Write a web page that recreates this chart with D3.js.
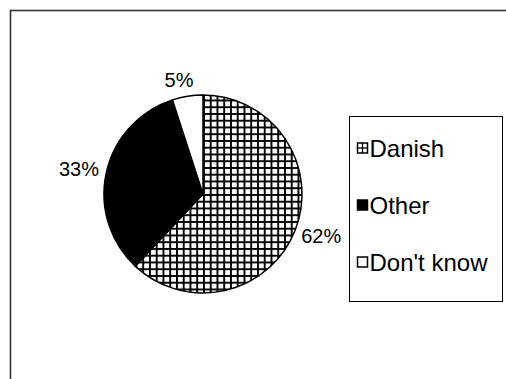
<!DOCTYPE html>
<html>
<head>
<meta charset="utf-8">
<script src="https://cdn.jsdelivr.net/npm/d3@7"></script>
<style>
  html, body { margin: 0; padding: 0; background: #fff; }
  svg { display: block; }
  text { font-family: "Liberation Sans", Arial, sans-serif; fill: #000; }
</style>
</head>
<body>
<svg id="chart" width="506" height="379"></svg>
<script>
// Survey answer shares, in percent
const categories = ["Danish", "Other", "Don't know"];
const shares = [62, 33, 5];
const valueLabels = ["62%", "33%", "5%"];

const svg = d3.select("#chart");
const W = 506, H = 379;

// chart area frame (runs off the right and bottom edges)
svg.append("rect")
  .attr("x", 10.5).attr("y", 10.5)
  .attr("width", W + 20).attr("height", H + 20)
  .attr("fill", "#fff").attr("stroke", "#333").attr("stroke-width", 1.6);

// cross-hatch fill for the "Danish" slice
const defs = svg.append("defs");
const grid = defs.append("pattern")
  .attr("id", "grid")
  .attr("patternUnits", "userSpaceOnUse")
  .attr("width", 6.75).attr("height", 6.75);
grid.append("rect").attr("width", 6.75).attr("height", 6.75).attr("fill", "#fff");
grid.append("rect").attr("x", 0).attr("y", 0).attr("width", 1.9).attr("height", 6.75).attr("fill", "#000");
grid.append("rect").attr("x", 0).attr("y", 0).attr("width", 6.75).attr("height", 1.9).attr("fill", "#000");

const fills = ["url(#grid)", "#000", "#fff"];

const cx = 203, cy = 194, r = 99;
const pie = d3.pie().sort(null).value(d => d)(shares);
const arc = d3.arc().innerRadius(0).outerRadius(r);

const g = svg.append("g").attr("transform", `translate(${cx},${cy})`);
g.selectAll("path.slice")
  .data(pie)
  .join("path")
  .attr("class", "slice")
  .attr("d", arc)
  .attr("fill", (d, i) => fills[i])
  .attr("stroke", "#000")
  .attr("stroke-width", 1.5)
  .attr("stroke-linejoin", "round");

// percentage labels just outside the rim
const labelFont = 20;
const labelGroup = g.selectAll("text.pct")
  .data(pie)
  .join("text")
  .attr("class", "pct")
  .attr("font-size", labelFont)
  .attr("text-anchor", "middle")
  .attr("dominant-baseline", "central")
  .text((d, i) => valueLabels[i]);

labelGroup.each(function (d) {
  const a = (d.startAngle + d.endAngle) / 2;
  const dx = Math.sin(a), dy = -Math.cos(a);
  const bb = this.getBBox();
  const rr = r + 8;
  const x = dx * rr + Math.sign(dx) * Math.max(Math.abs(dx), 0.5) * bb.width / 2;
  const y = dy * rr + dy * labelFont * 0.4;
  d3.select(this).attr("x", x).attr("y", y);
});

// legend
const lg = svg.append("g");
lg.append("rect")
  .attr("x", 349.5).attr("y", 116.5)
  .attr("width", 153).attr("height", 185)
  .attr("fill", "#fff").attr("stroke", "#000").attr("stroke-width", 1);

const rowY = d3.scalePoint().domain(categories).range([148, 262]);
const sw = 11;
const items = lg.selectAll("g.item")
  .data(categories)
  .join("g")
  .attr("class", "item")
  .attr("transform", d => `translate(357,${rowY(d)})`);

items.append("rect")
  .attr("x", 0.5).attr("y", -sw / 2 + 0.5)
  .attr("width", sw - 1).attr("height", sw - 1)
  .attr("fill", (d, i) => i === 1 ? "#000" : "#fff")
  .attr("stroke", "#000").attr("stroke-width", 1.5);

// miniature hatch marks inside the "Danish" key
items.filter((d, i) => i === 0).each(function () {
  const s = d3.select(this);
  s.append("line").attr("x1", sw / 2).attr("x2", sw / 2).attr("y1", -sw / 2).attr("y2", sw / 2)
    .attr("stroke", "#000").attr("stroke-width", 1.3);
  s.append("line").attr("x1", 0).attr("x2", sw).attr("y1", 0).attr("y2", 0)
    .attr("stroke", "#000").attr("stroke-width", 1.3);
});

items.append("text")
  .attr("x", 12.5)
  .attr("y", 0)
  .attr("dominant-baseline", "central")
  .attr("font-size", 24)
  .text(d => d);
</script>
</body>
</html>
